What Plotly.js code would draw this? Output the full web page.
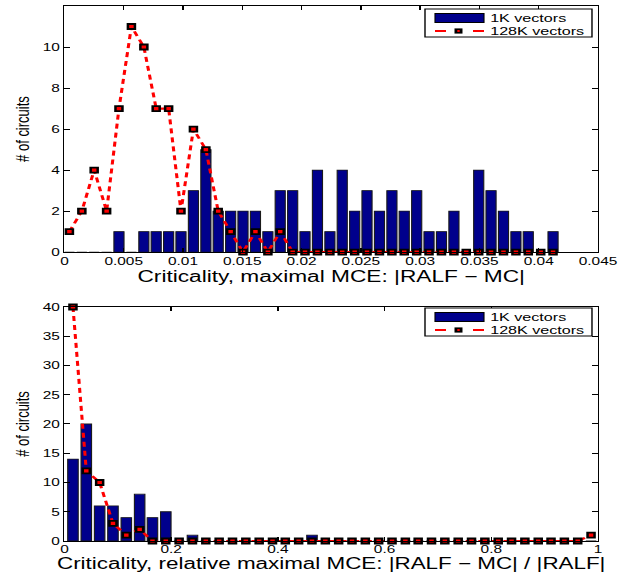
<!DOCTYPE html>
<html>
<head>
<meta charset="utf-8">
<script src="https://cdn.plot.ly/plotly-3.0.1.min.js"></script>
<style>
html,body{margin:0;padding:0;background:#fff;overflow:hidden;width:633px;height:573px;}
#chart{width:452px;height:573px;transform:scaleX(1.40044);transform-origin:0 0;}
</style>
</head>
<body>
<div id="chart"></div>
<script>
// ---- Top panel: maximal MCE |RALF - MC| ----
const binCentersTop = [0.00042,0.00147,0.00251,0.00356,0.00460,0.00565,0.00670,0.00774,0.00879,0.00983,
  0.01088,0.01193,0.01297,0.01402,0.01506,0.01611,0.01716,0.01820,0.01925,0.02029,
  0.02134,0.02239,0.02343,0.02448,0.02552,0.02657,0.02762,0.02866,0.02971,0.03075,
  0.03180,0.03285,0.03389,0.03494,0.03598,0.03703,0.03808,0.03912,0.04017,0.04121];
const top1K = [0,0,0,0,1,0,1,1,1,1, 3,5,2,2,2,2,1,3,3,1, 4,1,4,2,3,2,3,2,3,1, 1,2,0,4,3,2,1,1,0,1];
const top128K = [1,2,4,2,7,11,10,7,7,2, 6,5,2,1,0,1,0,1,0,0, 0,0,0,0,0,0,0,0,0,0, 0,0,0,0,0,0,0,0,0,0];
const topXTicks = [0,0.005,0.01,0.015,0.02,0.025,0.03,0.035,0.04,0.045];
const topXTickText = ['0','0.005','0.01','0.015','0.02','0.025','0.03','0.035','0.04','0.045'];
const topYTicks = [0,2,4,6,8,10,12];

// ---- Bottom panel: relative maximal MCE ----
const binCentersBot = [0.016,0.041,0.066,0.091,0.116,0.141,0.165,0.190,0.215,0.240,
  0.265,0.290,0.315,0.340,0.365,0.390,0.414,0.439,0.464,0.489,
  0.514,0.539,0.564,0.589,0.614,0.639,0.663,0.688,0.713,0.738,
  0.763,0.788,0.813,0.838,0.863,0.888,0.912,0.937,0.962,0.987];
const bot1K = [14,20,6,6,4,8,4,5,0,1, 0,0,0,0,0,0,0,0,1,0, 0,0,0,0,0,0,0,0,0,0, 0,0,0,0,0,0,0,0,0,0];
const bot128K = [40,12,10,3,1,2,0,0,0,0, 0,0,0,0,0,0,0,0,0,0, 0,0,0,0,0,0,0,0,0,0, 0,0,0,0,0,0,0,0,0,1];
const botXTicks = [0,0.2,0.4,0.6,0.8,1];
const botXTickText = ['0','0.2','0.4','0.6','0.8','1'];
const botYTicks = [0,5,10,15,20,25,30,35,40];

const seriesNames = ['1K vectors','128K vectors'];
const xTitles = ['Criticality, maximal MCE: |RALF \u2212 MC|','Criticality, relative maximal MCE: |RALF \u2212 MC| / |RALF|'];
const yTitle = '# of circuits';

const barColor = '#00008c';
const lineColor = '#ff0000';
const FONT = 'Liberation Sans, Arial, Helvetica, sans-serif';

function barTrace(x, y, xa, ya) {
  return {type:'bar', x:x, y:y, xaxis:xa, yaxis:ya, name:seriesNames[0],
    marker:{color:barColor, line:{color:'#1a1a1a', width:0.8}}, showlegend:false};
}
function lineTrace(x, y, xa, ya) {
  return {type:'scatter', mode:'lines+markers', x:x, y:y, xaxis:xa, yaxis:ya, name:seriesNames[1],
    line:{color:lineColor, width:2.2, dash:'5px,4px'},
    marker:{symbol:'square', size:5, color:lineColor, line:{color:'#000', width:1.8}},
    cliponaxis:false, showlegend:false};
}

const data = [
  barTrace(binCentersTop, top1K, 'x', 'y'),
  lineTrace(binCentersTop, top128K, 'x', 'y'),
  barTrace(binCentersBot, bot1K, 'x2', 'y2'),
  lineTrace(binCentersBot, bot128K, 'x2', 'y2')
];

function axBase() {
  return {showline:true, linecolor:'#000', linewidth:1, mirror:'ticks', ticks:'inside', ticklen:4,
    tickcolor:'#000', showgrid:false, zeroline:false, tickfont:{family:FONT, size:11, color:'#000'},
    fixedrange:true};
}

// paper coordinates from reference-picture pixel positions (for the drawn legend boxes)
function px(xRef) { return (xRef - 64.4) / 533.6; }
function py(yRef) { return (541 - yRef) / 535; }

function legendParts(dy) {
  const shapes = [
    {type:'rect', xref:'paper', yref:'paper', x0:px(425), x1:px(592), y0:py(37+dy), y1:py(9+dy),
      line:{color:'#000', width:1}, fillcolor:'#fff', layer:'above'},
    {type:'rect', xref:'paper', yref:'paper', x0:px(435), x1:px(484), y0:py(22.5+dy), y1:py(13.5+dy),
      line:{color:'#000', width:0.8}, fillcolor:barColor, layer:'above'},
    {type:'line', xref:'paper', yref:'paper', x0:px(435), x1:px(446), y0:py(31+dy), y1:py(31+dy),
      line:{color:lineColor, width:2}, layer:'above'},
    {type:'line', xref:'paper', yref:'paper', x0:px(473), x1:px(484), y0:py(31+dy), y1:py(31+dy),
      line:{color:lineColor, width:2}, layer:'above'},
    {type:'rect', xref:'paper', yref:'paper', x0:px(454.5), x1:px(462.5), y0:py(33.6+dy), y1:py(28.4+dy),
      line:{width:0}, fillcolor:'#000', layer:'above'},
    {type:'rect', xref:'paper', yref:'paper', x0:px(457.3), x1:px(459.7), y0:py(32+dy), y1:py(30+dy),
      line:{width:0}, fillcolor:lineColor, layer:'above'}
  ];
  const annotations = [
    {xref:'paper', yref:'paper', x:px(488), y:py(18+dy), xanchor:'left', yanchor:'middle', text:seriesNames[0],
      showarrow:false, font:{family:FONT, size:11.5, color:'#000'}},
    {xref:'paper', yref:'paper', x:px(488), y:py(31+dy), xanchor:'left', yanchor:'middle', text:seriesNames[1],
      showarrow:false, font:{family:FONT, size:11.5, color:'#000'}}
  ];
  return {shapes, annotations};
}
const lgTop = legendParts(0);
const lgBot = legendParts(299);

const layout = {
  width:452, height:573,
  margin:{l:46, r:25, t:6, b:32},
  paper_bgcolor:'#fff', plot_bgcolor:'#fff',
  font:{family:FONT, color:'#000'},
  bargap:0.18,
  showlegend:false,
  xaxis:Object.assign(axBase(), {domain:[0,1], anchor:'y', range:[0,0.045], tickvals:topXTicks, ticktext:topXTickText,
    ticklabelstandoff:-1,
    title:{text:xTitles[0], font:{family:FONT, size:16.2, color:'#000'}, standoff:0}}),
  yaxis:Object.assign(axBase(), {domain:[0.540,1], anchor:'x', range:[0,12], tickvals:topYTicks,
    title:{text:yTitle, font:{family:FONT, size:13, color:'#000'}, standoff:6}}),
  xaxis2:Object.assign(axBase(), {domain:[0,1], anchor:'y2', range:[0,1], tickvals:botXTicks, ticktext:botXTickText,
    ticklabelstandoff:-2,
    title:{text:xTitles[1], font:{family:FONT, size:16, color:'#000'}, standoff:0}}),
  yaxis2:Object.assign(axBase(), {domain:[0,0.4374], anchor:'x2', range:[0,40], tickvals:botYTicks,
    title:{text:yTitle, font:{family:FONT, size:13, color:'#000'}, standoff:6}}),
  shapes:lgTop.shapes.concat(lgBot.shapes),
  annotations:lgTop.annotations.concat(lgBot.annotations)
};

Plotly.newPlot('chart', data, layout, {displayModeBar:false, staticPlot:true});
</script>
</body>
</html>
